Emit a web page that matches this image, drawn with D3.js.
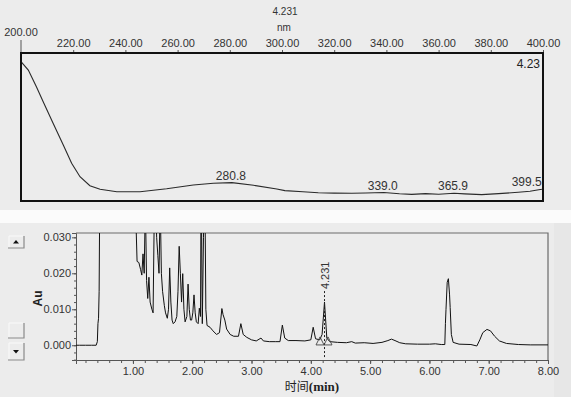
<!DOCTYPE html>
<html>
<head>
<meta charset="utf-8">
<script src="https://cdn.jsdelivr.net/npm/d3@7"></script>
<style>
  html, body { margin: 0; padding: 0; background: #ececec; }
  svg { display: block; }
  text { font-family: "Liberation Sans", Arial, sans-serif; }
</style>
</head>
<body>
<svg id="chart" width="571" height="397"></svg>
<script>
// ---------------- DATA ----------------
// UV spectrum (top panel) at retention time 4.231 min
const specWavelength = [200, 202.8, 205.9, 208.5, 212.3, 216.2, 219.4, 222.6, 226.4, 230.3, 236.7, 245.6, 255.8, 266, 273.7, 280.8, 289.1, 298, 301.1, 308, 313.9, 320, 326.7, 332, 339.0, 345, 349.7, 355, 360, 365.9, 370, 376.5, 383, 390.5, 395, 399.5, 400];
const specAbs =        [0.941, 0.885, 0.772, 0.671, 0.525, 0.378, 0.255, 0.164, 0.103, 0.079, 0.063, 0.063, 0.083, 0.108, 0.120, 0.124, 0.106, 0.081, 0.070, 0.062, 0.056, 0.053, 0.052, 0.054, 0.057, 0.049, 0.045, 0.050, 0.046, 0.052, 0.048, 0.043, 0.050, 0.059, 0.066, 0.079, 0.081];
const specTicks = [200, 220, 240, 260, 280, 300, 320, 340, 360, 380, 400];
const specPeakLabels = [280.8, 339.0, 365.9, 399.5];
const specTitle = "4.231";
const specUnit = "nm";
const specCornerLabel = "4.23";

// Chromatogram (bottom panel)
const rtTime = [0.04, 0.10, 0.20, 0.30, 0.38, 0.40, 0.41, 0.42, 0.43, 0.44, 0.46, 0.60, 0.80, 1.00, 1.05, 1.07, 1.10, 1.13, 1.15, 1.17, 1.19, 1.21, 1.23, 1.25, 1.27, 1.29, 1.32, 1.34, 1.37, 1.40, 1.42, 1.44, 1.46, 1.48, 1.50, 1.53, 1.55, 1.58, 1.60, 1.62, 1.64, 1.66, 1.68, 1.71, 1.74, 1.76, 1.78, 1.80, 1.82, 1.84, 1.86, 1.88, 1.91, 1.93, 1.95, 1.97, 1.99, 2.01, 2.03, 2.05, 2.07, 2.10, 2.12, 2.14, 2.15, 2.17, 2.19, 2.21, 2.23, 2.25, 2.30, 2.35, 2.41, 2.46, 2.50, 2.52, 2.55, 2.58, 2.64, 2.70, 2.78, 2.82, 2.86, 2.92, 3.00, 3.08, 3.16, 3.20, 3.30, 3.40, 3.48, 3.52, 3.56, 3.62, 3.75, 3.90, 4.00, 4.04, 4.08, 4.15, 4.19, 4.231, 4.27, 4.32, 4.45, 4.60, 4.69, 4.75, 4.90, 5.05, 5.20, 5.30, 5.36, 5.42, 5.50, 5.60, 5.80, 6.00, 6.10, 6.20, 6.26, 6.27, 6.28, 6.30, 6.32, 6.34, 6.35, 6.37, 6.40, 6.50, 6.70, 6.80, 6.85, 6.90, 6.97, 7.03, 7.10, 7.18, 7.30, 7.50, 7.70, 8.00];
const rtAU =   [0.0000, 0.0000, 0.0000, 0.0000, 0.0000, 0.0010, 0.0060, 0.0075, 0.0150, 0.0400, 0.1200, 0.2500, 0.1500, 0.0600, 0.0350, 0.0233, 0.0230, 0.0210, 0.0195, 0.0254, 0.0200, 0.0400, 0.0180, 0.0130, 0.0189, 0.0120, 0.0100, 0.0090, 0.0500, 0.0300, 0.0250, 0.0200, 0.0400, 0.0200, 0.0150, 0.0110, 0.0090, 0.0075, 0.0100, 0.0215, 0.0120, 0.0070, 0.0060, 0.0065, 0.0080, 0.0150, 0.0275, 0.0200, 0.0120, 0.0199, 0.0100, 0.0065, 0.0080, 0.0170, 0.0100, 0.0070, 0.0070, 0.0090, 0.0140, 0.0090, 0.0065, 0.0060, 0.0103, 0.0080, 0.0500, 0.0060, 0.0300, 0.0500, 0.0100, 0.0055, 0.0050, 0.0040, 0.0030, 0.0035, 0.0102, 0.0085, 0.0070, 0.0045, 0.0030, 0.0025, 0.0025, 0.0060, 0.0030, 0.0022, 0.0015, 0.0012, 0.0020, 0.0012, 0.0010, 0.0010, 0.0010, 0.0056, 0.0020, 0.0013, 0.0013, 0.0012, 0.0015, 0.0050, 0.0018, 0.0015, 0.0030, 0.0120, 0.0020, 0.0010, 0.0008, 0.0007, 0.0010, 0.0006, 0.0007, 0.0005, 0.0008, 0.0013, 0.0017, 0.0013, 0.0007, 0.0004, 0.0003, 0.0003, 0.0004, 0.0002, 0.0002, 0.0060, 0.0100, 0.0175, 0.0185, 0.0140, 0.0105, 0.0030, 0.0008, 0.0003, 0.0002, -0.0002, 0.0015, 0.0035, 0.0044, 0.0040, 0.0025, 0.0012, 0.0005, 0.0002, 0.0001, 0.0001];
const rtMajorTicks = [1, 2, 3, 4, 5, 6, 7, 8];
const auMajorTicks = [0, 0.010, 0.020, 0.030];
const markedPeak = 4.231;
const peakBounds = [4.155, 4.29];
const yLabel = "Au";
const xLabelCJK = "时间";
const xLabelUnit = "(min)";

// ---------------- DRAW ----------------
const svg = d3.select("#chart");
const W = 571, H = 397;

svg.append("rect").attr("x", 0).attr("y", 0).attr("width", W).attr("height", H).attr("fill", "#ececec");
svg.append("rect").attr("x", 0).attr("y", 210).attr("width", W).attr("height", 13).attr("fill", "#fbfbfb");
svg.append("rect").attr("x", 554).attr("y", 223).attr("width", W - 554).attr("height", H - 223).attr("fill", "#e7e7e7");

// ----- Top panel: spectrum -----
const pTop = { l: 21, r: 543, t: 53, b: 201 };
const xs = d3.scaleLinear().domain([200, 400]).range([pTop.l, pTop.r]);
const ys = d3.scaleLinear().domain([0, 1]).range([pTop.b, pTop.t]);

svg.append("text").attr("x", 285).attr("y", 15).attr("text-anchor", "middle")
  .attr("font-size", 10).attr("fill", "#333").text(specTitle);
svg.append("text").attr("x", 284).attr("y", 31).attr("text-anchor", "middle")
  .attr("font-size", 10).attr("fill", "#333").text(specUnit);

const topAxis = d3.axisTop(xs).tickValues(specTicks.slice(1)).tickSize(3).tickPadding(3)
  .tickFormat(d3.format(".2f"));
const gTop = svg.append("g").attr("transform", `translate(0,${pTop.t})`).call(topAxis);
gTop.select(".domain").remove();
gTop.selectAll(".tick line").attr("stroke", "#555");
gTop.selectAll(".tick text").attr("font-size", 11).attr("fill", "#333")
  .attr("font-family", "'Liberation Sans', Arial, sans-serif");
svg.append("text").attr("x", xs(specTicks[0])).attr("y", 36).attr("text-anchor", "middle")
  .attr("font-size", 11).attr("fill", "#333").text(d3.format(".2f")(specTicks[0]));
svg.append("line").attr("x1", xs(specTicks[0])).attr("x2", xs(specTicks[0]))
  .attr("y1", 40).attr("y2", pTop.t).attr("stroke", "#555");

const specData = specWavelength.map((w, i) => ({ w, a: specAbs[i] }));
svg.append("path").datum(specData)
  .attr("fill", "none").attr("stroke", "#2a2a2a").attr("stroke-width", 1.1)
  .attr("d", d3.line().x(d => xs(d.w)).y(d => ys(d.a)));

const specInterp = w => {
  const i = d3.bisectLeft(specWavelength, w);
  if (i <= 0) return specAbs[0];
  if (i >= specWavelength.length) return specAbs[specAbs.length - 1];
  const w0 = specWavelength[i - 1], w1 = specWavelength[i];
  const t = (w - w0) / (w1 - w0);
  return specAbs[i - 1] + t * (specAbs[i] - specAbs[i - 1]);
};
specPeakLabels.forEach((w, i) => {
  const last = i === specPeakLabels.length - 1;
  svg.append("text")
    .attr("x", last ? xs(w) : xs(w) - 1)
    .attr("y", ys(specInterp(w)) - 3)
    .attr("text-anchor", last ? "end" : "middle")
    .attr("font-size", 12).attr("fill", "#333")
    .text(d3.format(".1f")(w));
});
svg.append("text").attr("x", pTop.r - 3).attr("y", 68).attr("text-anchor", "end")
  .attr("font-size", 12).attr("fill", "#222").text(specCornerLabel);

svg.append("rect").attr("x", pTop.l).attr("y", pTop.t).attr("width", pTop.r - pTop.l).attr("height", pTop.b - pTop.t)
  .attr("fill", "none").attr("stroke", "#111").attr("stroke-width", 2);

// ----- Bottom panel: chromatogram -----
const pBot = { l: 76, r: 548, t: 233, b: 360 };
const xb = d3.scaleLinear().domain([0.04, 8]).range([pBot.l, pBot.r]);
const yb = d3.scaleLinear().domain([-0.0041, 0.0312]).range([pBot.b, pBot.t]);

svg.append("defs").append("clipPath").attr("id", "clipB")
  .append("rect").attr("x", pBot.l).attr("y", pBot.t).attr("width", pBot.r - pBot.l).attr("height", pBot.b - pBot.t);

svg.append("path").attr("d", `M${pBot.l},${pBot.t}H${pBot.r}V${pBot.b}`)
  .attr("fill", "none").attr("stroke", "#6a6a6a").attr("stroke-width", 1.2);

const xMinor = d3.range(0.2, 8.001, 0.2).map(v => +v.toFixed(1));
const gxMinor = svg.append("g").attr("transform", `translate(0,${pBot.b})`)
  .call(d3.axisBottom(xb).tickValues(xMinor).tickSize(3).tickFormat(""));
gxMinor.select(".domain").remove();
gxMinor.selectAll(".tick line").attr("stroke", "#555");
const gx = svg.append("g").attr("transform", `translate(0,${pBot.b})`)
  .call(d3.axisBottom(xb).tickValues(rtMajorTicks).tickSize(4).tickPadding(3).tickFormat(d3.format(".2f")));
gx.select(".domain").attr("stroke", "#555");
gx.selectAll(".tick line").attr("stroke", "#555");
gx.selectAll(".tick text").attr("font-size", 11).attr("fill", "#333")
  .attr("font-family", "'Liberation Sans', Arial, sans-serif");

const yMinor = d3.range(-0.004, 0.0301, 0.002).map(v => +v.toFixed(3));
const gyMinor = svg.append("g").attr("transform", `translate(${pBot.l},0)`)
  .call(d3.axisLeft(yb).tickValues(yMinor).tickSize(2).tickFormat(""));
gyMinor.select(".domain").remove();
gyMinor.selectAll(".tick line").attr("stroke", "#555");
const gy = svg.append("g").attr("transform", `translate(${pBot.l},0)`)
  .call(d3.axisLeft(yb).tickValues(auMajorTicks).tickSize(4).tickPadding(1).tickFormat(d3.format(".3f")));
gy.select(".domain").attr("stroke", "#555");
gy.selectAll(".tick line").attr("stroke", "#555");
gy.selectAll(".tick text").attr("font-size", 11).attr("fill", "#333")
  .attr("font-family", "'Liberation Sans', Arial, sans-serif");

const rtData = rtTime.map((t, i) => ({ t, v: rtAU[i] }));
svg.append("path").datum(rtData).attr("clip-path", "url(#clipB)")
  .attr("fill", "none").attr("stroke", "#111").attr("stroke-width", 1)
  .attr("d", d3.line().x(d => xb(d.t)).y(d => yb(d.v)));

const peakVal = rtAU[rtTime.indexOf(markedPeak)];
svg.append("line").attr("x1", xb(markedPeak)).attr("x2", xb(markedPeak))
  .attr("y1", yb(peakVal) - 11).attr("y2", pBot.b - 2)
  .attr("stroke", "#222").attr("stroke-width", 1).attr("stroke-dasharray", "2,2");
svg.append("text")
  .attr("transform", `translate(${xb(markedPeak) + 4},${yb(peakVal) - 13}) rotate(-90)`)
  .attr("font-size", 11).attr("fill", "#333").text(d3.format(".3f")(markedPeak));
peakBounds.forEach(t => {
  const cx = xb(t), by = yb(0.0012);
  svg.append("path").attr("d", `M${cx},${by - 4}L${cx - 4},${by + 4}L${cx + 4},${by + 4}Z`)
    .attr("fill", "none").attr("stroke", "#444").attr("stroke-width", 0.9);
});

svg.append("text").attr("transform", `translate(42,${(pBot.t + pBot.b) / 2 + 2}) rotate(-90)`)
  .attr("text-anchor", "middle").attr("font-size", 12).attr("font-weight", "bold").attr("fill", "#222").text(yLabel);
const xt = svg.append("text").attr("x", (pBot.l + pBot.r) / 2).attr("y", 391).attr("text-anchor", "middle").attr("fill", "#222");
xt.append("tspan").attr("font-family", "'Noto Sans CJK SC', sans-serif").attr("font-size", 12).text(xLabelCJK);
xt.append("tspan").attr("font-family", "'Liberation Serif', serif").attr("font-weight", "bold").attr("font-size", 13).text(xLabelUnit);

function button(y0, y1, dir) {
  svg.append("path").attr("d", `M8,${y1}H24V${y0}`).attr("fill", "none").attr("stroke", "#8a8a8a").attr("stroke-width", 1.2);
  svg.append("path").attr("d", `M9,${y1 - 1}V${y0}H23`).attr("fill", "none").attr("stroke", "#fafafa").attr("stroke-width", 1);
  if (dir) {
    const cx = 16, cy = (y0 + y1) / 2;
    const d = dir === "up" ? `M${cx},${cy - 2}L${cx - 3},${cy + 1.5}L${cx + 3},${cy + 1.5}Z`
                           : `M${cx},${cy + 2}L${cx - 3},${cy - 1.5}L${cx + 3},${cy - 1.5}Z`;
    svg.append("path").attr("d", d).attr("fill", "#111");
  }
}
button(236, 248, "up");
button(323, 338, null);
button(343, 360, "down");
</script>
</body>
</html>
